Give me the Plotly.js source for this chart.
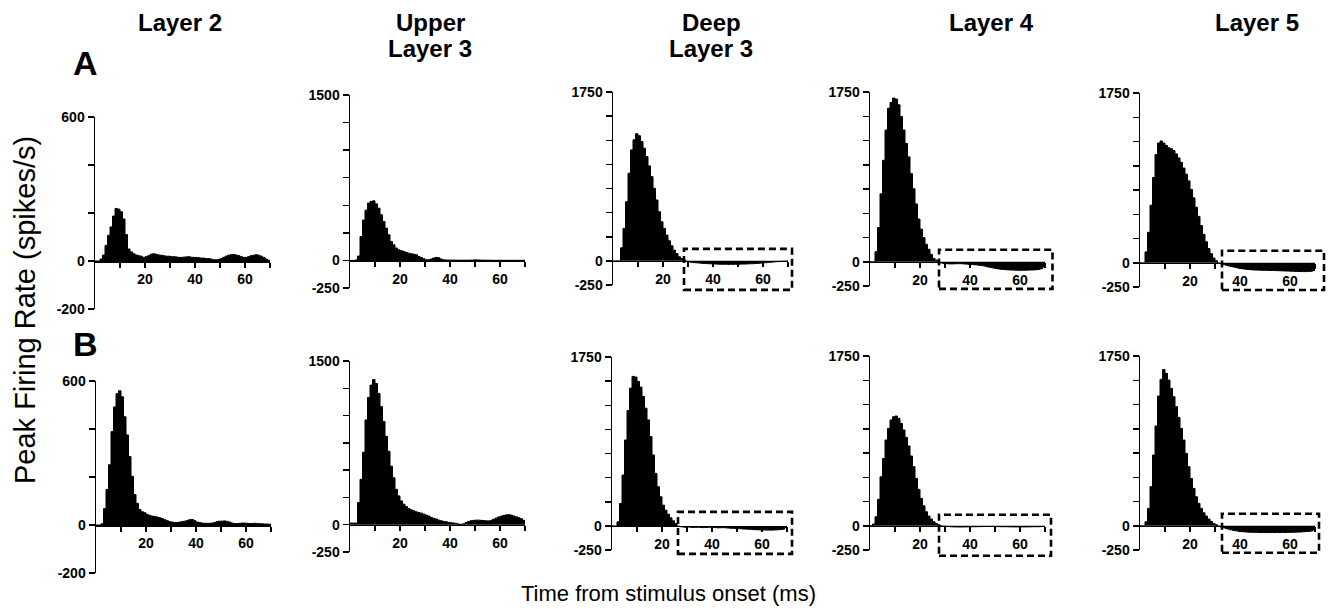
<!DOCTYPE html>
<html>
<head>
<meta charset="utf-8">
<script src="https://cdn.plot.ly/plotly-3.0.1.min.js"></script>
<style>
  html, body { margin: 0; padding: 0; background: #fff; }
  #chart { width: 1329px; height: 609px; }
</style>
</head>
<body>
<div id="chart"></div>
<script>
// ---------------- DATA ----------------
const layerNames = ['Layer 2', 'Upper\nLayer 3', 'Deep\nLayer 3', 'Layer 4', 'Layer 5'];
const rowLabels = ['A', 'B'];
const xTitle = 'Time from stimulus onset (ms)';
const yTitle = 'Peak Firing Rate (spikes/s)';

// bin edges (ms), 1 ms bins: 70 bins from 0 to 70
const binEdges_ms = [0,1,2,3,4,5,6,7,8,9,10,11,12,13,14,15,16,17,18,19,20,21,22,23,24,25,26,27,28,29,30,31,32,33,34,35,36,37,38,39,40,41,42,43,44,45,46,47,48,49,50,51,52,53,54,55,56,57,58,59,60,61,62,63,64,65,66,67,68,69,70];

// Row A
const A_layer2 = [0,0,8,25,65,107,142,187,219,216, 205,175,110,50,38,30,25,22,20,15, 18,22,28,30,28,25,24,22,20,20, 18,18,17,15,15,16,17,18,16,15, 15,14,12,12,10,10,8,5,5,6, 10,15,20,24,26,27,25,22,18,15, 15,18,22,24,26,24,20,15,8,3];
const A_upperL3 = [0,0,5,40,217,366,456,520,535,540, 513,474,414,353,293,232,172,142,112,97, 88,82,72,66,60,57,51,36,27,15, 6,6,12,21,27,24,12,6,4,3, 3,3,2,2,2,2,2,2,3,4, 5,4,3,2,2,2,2,1,1,1, 1,1,1,1,1,1,1,1,1,1];
const A_deepL3 = [0,0,0,135,336,613,908,1150,1254,1317, 1296,1237,1168,1081,984,873,752,631,509,405, 336,267,208,156,111,76,42,24,10,-5, -10,-15,-18,-20,-22,-25,-27,-28,-30,-30, -32,-33,-34,-35,-35,-35,-36,-36,-35,-35, -34,-33,-33,-32,-30,-30,-28,-27,-25,-22, -20,-18,-15,-13,-10,-8,-6,-5,-4,-3];
const A_layer4 = [0,0,104,353,700,1046,1358,1583,1642,1687, 1677,1618,1497,1358,1220,1081,908,752,596,440, 336,249,180,128,76,35,17, -5,-12,-18,-20,-22,-22,-22,-20,-20,-20,-22,-24,-26,-28,-30,-32,-35,-38,-42,-48,-55,-60,-65,-70,-74,-78,-80,-82,-84,-85,-86,-87,-88,-88,-88,-87,-86,-85,-84,-82,-80,-72,-55];
const A_layer5 = [0,0,112,314,593,878,1115,1234,1255,1234, 1210,1185,1175,1157,1122,1081,1035,976,913,844, 756,669,572,478,383,293,216,146,94,49,21, -3,-10,-18,-25,-32,-38,-44,-50,-55,-60,-64,-67,-70,-72,-74,-75,-76,-77,-78,-78,-79,-80,-80,-81,-82,-83,-84,-85,-86,-87,-88,-89,-90,-90,-91,-91,-90,-88,-80];

// Row B
const B_layer2 = [0,0,5,68,148,251,389,492,547,559, 534,451,375,285,203,127,90,65,55,51, 44,40,37,35,33,30,27,22,18,14, 12,10,10,12,14,16,18,22,23,18, 12,10,8,7,7,7,8,10,14,16, 16,17,15,12,8,6,6,7,8,8, 7,6,6,7,6,5,5,4,4,3];
const B_upperL3 = [15,15,15,203,415,664,960,1166,1279,1330, 1294,1203,1082,945,809,673,536,430,324,264, 218,188,167,148,136,127,118,112,106,97, 88,79,67,58,52,42,36,30,27,21, 18,15,12,6,3,8,20,30,36,40, 42,42,40,38,36,35,40,50,60,70, 78,85,90,92,88,80,72,64,55,40];
const B_deepL3 = [0,0,42,232,527,890,1195,1427,1549,1542, 1497,1438,1341,1220,1098,925,735,544,405,301, 215,163,121,83,52,24, -3,-8,-12,-14,-12,-14,-16,-15,-14,-16,-18,-17,-15,-14,-16,-18,-20,-19,-18,-20,-22,-24,-25,-27,-28,-30,-32,-33,-35,-36,-38,-40,-40,-42,-42,-43,-44,-44,-43,-42,-40,-38,-35,-20];
const B_layer4 = [0,17,93,272,505,694,884,1004,1090,1124, 1131,1107,1055,987,911,822,719,609,488,375, 282,206,144,100,69,41,24,10, -2,-5,-6,-8,-10,-12,-12,-13,-13,-12,-12,-11,-10,-10,-10,-9,-9,-8,-8,-8,-8,-8,-9,-9,-10,-10,-10,-11,-11,-12,-12,-12,-12,-12,-12,-11,-11,-10,-10,-10,-9,-8];
const B_layer5 = [0,0,41,179,402,729,1028,1337,1509,1610, 1571,1502,1416,1330,1227,1117,1004,884,746,609, 488,385,299,230,179,134,100,69,45,24,10, -5,-12,-20,-28,-35,-42,-48,-52,-56,-60,-62,-64,-66,-67,-68,-68,-69,-70,-70,-70,-70,-70,-70,-70,-70,-70,-69,-69,-68,-68,-67,-66,-65,-64,-62,-60,-58,-55,-45];

// axis ticks
const xTickVals = [10,20,30,40,50,60,70];
const xTickText = ['','20','','40','','60',''];
const yTicksL2 = [-200,0,200,400,600];
const yTickTextL2 = ['-200','0','','','600'];
const yTicksUL3 = [-250,0,250,500,750,1000,1250,1500];
const yTickTextUL3 = ['-250','0','','','','','','1500'];
const yTicksDeep = [-250,0,250,500,750,1000,1250,1500,1750];
const yTickTextDeep = ['-250','0','','','','','','','1750'];

// dashed boxes (ms, spikes/s) for Deep L3, L4, L5 in rows A and B
const boxStart_ms = [28.4, 27.6, 32.8, 26.4, 27.6, 32.8];
const boxEnd_ms   = [71.6, 73.0, 73.6, 72.0, 72.4, 71.6];
const boxTop      = [124, 124, 124, 145, 113, 124];
const boxBottom   = [-300, -280, -281, -290, -309, -278];

// ---------------- LAYOUT GEOMETRY ----------------
const W = 1329, H = 609;
const rowsData = [[A_layer2, A_upperL3, A_deepL3, A_layer4, A_layer5],
                  [B_layer2, B_upperL3, B_deepL3, B_layer4, B_layer5]];
const yTicks = [[yTicksL2, yTickTextL2], [yTicksUL3, yTickTextUL3], [yTicksDeep, yTickTextDeep], [yTicksDeep, yTickTextDeep], [yTicksDeep, yTickTextDeep]];
// pixel geometry per panel: [x0,x1], [yTop,yBottom]
const geom = [
  [[[95,270],[117,309]], [[350,525],[95,288]], [[613,788],[92,285]], [[870,1045],[92,286]], [[1140,1315],[93,287]]],
  [[[96,271],[381,573]], [[350,525],[361,552]], [[612,787],[357,550]], [[870,1045],[356,550]], [[1140,1315],[356,550]]]
];

const FONT = 'Liberation Sans, Arial, Helvetica, sans-serif';
const traces = [];
const layout = {
  width: W, height: H, autosize: false,
  margin: {l:0, r:0, t:0, b:0},
  paper_bgcolor: '#fff', plot_bgcolor: 'rgba(0,0,0,0)',
  showlegend: false, hovermode: false,
  annotations: [], shapes: []
};

const panelInfo = [];
let n = 0;
for (let r = 0; r < 2; r++) {
  for (let c = 0; c < 5; c++) {
    n++;
    const sfx = n === 1 ? '' : String(n);
    const [gx, gy] = geom[r][c];
    const tv = yTicks[c][0], tt = yTicks[c][1];
    const ymin = tv[0], ymax = tv[tv.length - 1];
    const dY0 = 1 - gy[1] / H, dY1 = 1 - gy[0] / H;
    const zeroPaper = dY0 + (0 - ymin) / (ymax - ymin) * (dY1 - dY0);
    panelInfo.push({gx, gy, ymin, ymax});
    const vals = rowsData[r][c];
    // histogram drawn as a filled step line (value held across each 1 ms bin)
    traces.push({
      type: 'scatter', mode: 'lines',
      x: binEdges_ms, y: vals.concat([vals[vals.length - 1]]),
      line: {shape: 'hv', color: '#000', width: 1},
      fill: 'tozeroy', fillcolor: '#000',
      xaxis: 'x' + sfx, yaxis: 'y' + sfx, cliponaxis: true
    });
    layout['xaxis' + sfx] = {
      domain: [gx[0] / W, gx[1] / W], range: [0, 70],
      anchor: 'free', position: zeroPaper,
      tickmode: 'array', tickvals: xTickVals, ticktext: xTickText,
      ticks: 'outside', ticklen: 5, tickwidth: 1.5, tickcolor: '#000',
      showline: true, linewidth: 1.5, linecolor: '#000',
      showgrid: false, zeroline: false, fixedrange: true,
      tickfont: {family: FONT, size: 14, color: '#000', weight: 'bold'}
    };
    layout['yaxis' + sfx] = {
      domain: [dY0, dY1], range: [ymin, ymax],
      anchor: 'x' + sfx,
      tickmode: 'array', tickvals: tv, ticktext: tt,
      ticks: 'outside', ticklen: 6, tickwidth: 1.5, tickcolor: '#000',
      showline: true, linewidth: 1.5, linecolor: '#000',
      showgrid: false, zeroline: false, fixedrange: true,
      tickfont: {family: FONT, size: 14, color: '#000', weight: 'bold'}
    };
  }
}

// dashed boxes: panels (row, col) for Deep L3, L4, L5
const boxPanels = [[0,2],[0,3],[0,4],[1,2],[1,3],[1,4]];
boxPanels.forEach(([r, c], i) => {
  const p = panelInfo[r * 5 + c];
  const px = v => (p.gx[0] + v / 70 * (p.gx[1] - p.gx[0])) / W;
  const py = v => 1 - (p.gy[0] + (p.ymax - v) / (p.ymax - p.ymin) * (p.gy[1] - p.gy[0])) / H;
  layout.shapes.push({
    type: 'rect', xref: 'paper', yref: 'paper',
    x0: px(boxStart_ms[i]), x1: px(boxEnd_ms[i]),
    y0: py(boxBottom[i]), y1: py(boxTop[i]),
    line: {color: '#000', width: 2.6, dash: '7px,4px'},
    fillcolor: 'rgba(0,0,0,0)', layer: 'above'
  });
});

// column titles
const titleX = [180, 430, 711, 991, 1257];
layerNames.forEach((name, i) => {
  name.split('\n').forEach((line, j) => {
    layout.annotations.push({
      text: line, xref: 'paper', yref: 'paper',
      x: titleX[i] / W, y: 1 - (23 + 25 * j) / H,
      xanchor: 'center', yanchor: 'middle', showarrow: false,
      font: {family: FONT, size: 24, color: '#000', weight: 'bold'}
    });
  });
});

// row labels
const rowLabelY = [63, 344];
rowLabels.forEach((lab, i) => {
  layout.annotations.push({
    text: lab, xref: 'paper', yref: 'paper',
    x: 85 / W, y: 1 - rowLabelY[i] / H,
    xanchor: 'center', yanchor: 'middle', showarrow: false,
    font: {family: FONT, size: 34, color: '#000', weight: 'bold'}
  });
});

// axis titles
layout.annotations.push({
  text: yTitle, xref: 'paper', yref: 'paper',
  x: 25 / W, y: 1 - 310 / H, textangle: -90,
  xanchor: 'center', yanchor: 'middle', showarrow: false,
  font: {family: FONT, size: 29, color: '#000'}
});
layout.annotations.push({
  text: xTitle, xref: 'paper', yref: 'paper',
  x: 669 / W, y: 1 - 593 / H,
  xanchor: 'center', yanchor: 'middle', showarrow: false,
  font: {family: FONT, size: 22, color: '#000'}
});

Plotly.newPlot('chart', traces, layout, {staticPlot: true, displayModeBar: false});
</script>
</body>
</html>
